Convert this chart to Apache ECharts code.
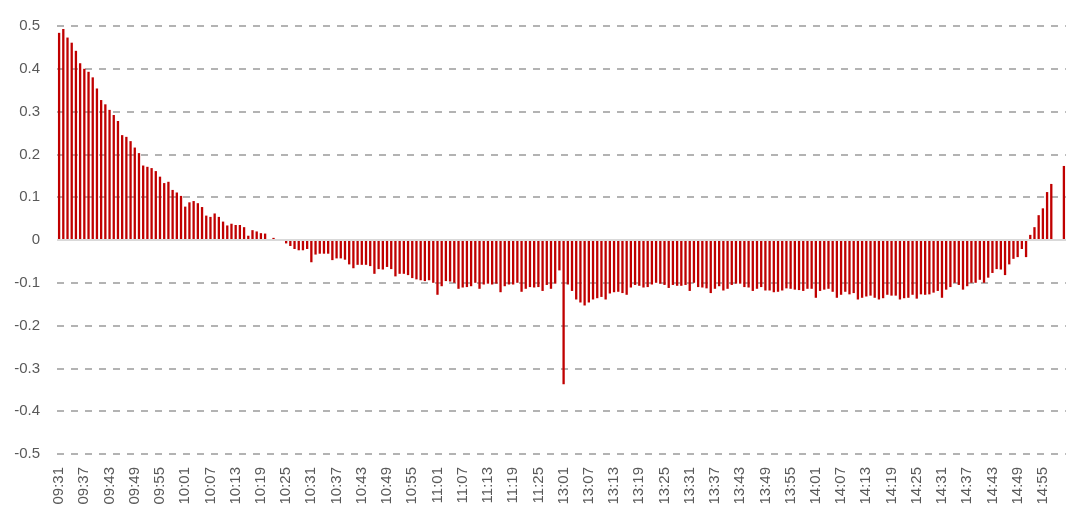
<!DOCTYPE html>
<html>
<head>
<meta charset="utf-8">
<script src="https://cdn.jsdelivr.net/npm/echarts@6/dist/echarts.min.js"></script>
<style>
html,body{margin:0;padding:0;background:#fff;}
#chart{width:1080px;height:525px;}
</style>
</head>
<body>
<div id="chart"></div>
<script>
// Trading sessions (minute bars)
const morningSession = ['09:31', '11:30'];
const afternoonSession = ['13:01', '15:00'];

function minutesBetween(start, end) {
  const out = [];
  const toMin = s => parseInt(s.slice(0, 2), 10) * 60 + parseInt(s.slice(3), 10);
  for (let m = toMin(start); m <= toMin(end); m++) {
    const h = Math.floor(m / 60), mm = m % 60;
    out.push((h < 10 ? '0' : '') + h + ':' + (mm < 10 ? '0' : '') + mm);
  }
  return out;
}
const categories = minutesBetween(morningSession[0], morningSession[1])
  .concat(minutesBetween(afternoonSession[0], afternoonSession[1]));

// Morning session values (09:31 - 11:30)
const morningValues = [
  0.484, 0.493, 0.473, 0.461, 0.442, 0.413, 0.400, 0.393, 0.380, 0.354,
  0.327, 0.317, 0.304, 0.292, 0.278, 0.245, 0.241, 0.231, 0.216, 0.203,
  0.174, 0.171, 0.168, 0.161, 0.148, 0.133, 0.136, 0.117, 0.111, 0.103,
  0.078, 0.088, 0.091, 0.086, 0.077, 0.057, 0.054, 0.062, 0.054, 0.043,
  0.034, 0.038, 0.035, 0.035, 0.030, 0.010, 0.023, 0.020, 0.016, 0.015,
  0.002, 0.005, 0.001, -0.002, -0.008, -0.014, -0.021, -0.024, -0.024, -0.021,
  -0.052, -0.034, -0.032, -0.032, -0.032, -0.047, -0.043, -0.043, -0.046, -0.057,
  -0.066, -0.058, -0.058, -0.058, -0.061, -0.079, -0.068, -0.069, -0.063, -0.068,
  -0.085, -0.079, -0.079, -0.082, -0.089, -0.092, -0.094, -0.096, -0.094, -0.100,
  -0.128, -0.108, -0.096, -0.097, -0.100, -0.114, -0.111, -0.110, -0.108, -0.100,
  -0.114, -0.104, -0.102, -0.104, -0.102, -0.122, -0.108, -0.104, -0.104, -0.100,
  -0.121, -0.114, -0.110, -0.111, -0.110, -0.119, -0.105, -0.114, -0.102, -0.071
];

// Afternoon session values (13:01 - 15:00)
const afternoonValues = [
  -0.337, -0.104, -0.119, -0.139, -0.146, -0.153, -0.146, -0.139, -0.136, -0.133,
  -0.139, -0.125, -0.122, -0.121, -0.124, -0.128, -0.111, -0.105, -0.107, -0.111,
  -0.110, -0.104, -0.100, -0.102, -0.105, -0.112, -0.105, -0.107, -0.107, -0.105,
  -0.119, -0.100, -0.110, -0.111, -0.113, -0.124, -0.114, -0.108, -0.118, -0.114,
  -0.105, -0.102, -0.102, -0.110, -0.111, -0.119, -0.114, -0.110, -0.118, -0.118,
  -0.122, -0.121, -0.118, -0.113, -0.114, -0.116, -0.117, -0.119, -0.114, -0.114,
  -0.135, -0.119, -0.116, -0.114, -0.121, -0.135, -0.128, -0.121, -0.127, -0.124,
  -0.139, -0.135, -0.132, -0.130, -0.135, -0.139, -0.136, -0.128, -0.130, -0.130,
  -0.139, -0.136, -0.135, -0.128, -0.137, -0.127, -0.128, -0.127, -0.123, -0.119,
  -0.135, -0.116, -0.110, -0.100, -0.105, -0.116, -0.108, -0.100, -0.100, -0.093,
  -0.100, -0.088, -0.077, -0.068, -0.069, -0.082, -0.057, -0.044, -0.040, -0.021,
  -0.040, 0.012, 0.030, 0.058, 0.074, 0.112, 0.131, null, null, 0.173
];

const values = morningValues.concat(afternoonValues);

// Y axis ticks
const yMin = -0.5, yMax = 0.5, yStep = 0.1;

const chart = echarts.init(document.getElementById('chart'), null, {renderer: 'canvas'});
const fontFamily = '"Liberation Sans", Arial, sans-serif';
chart.setOption({
  animation: false,
  backgroundColor: '#ffffff',
  grid: {left: 57, right: 14, top: 26, bottom: 71, containLabel: false},
  xAxis: {
    type: 'category',
    data: categories,
    position: 'bottom',
    boundaryGap: true,
    axisLine: {show: false, onZero: false},
    axisTick: {show: false},
    axisLabel: {
      interval: 5,
      rotate: 90,
      margin: 13,
      color: '#595959',
      fontSize: 15,
      fontFamily: fontFamily
    },
    splitLine: {show: false}
  },
  yAxis: {
    type: 'value',
    min: yMin,
    max: yMax,
    interval: yStep,
    axisLine: {show: false},
    axisTick: {show: false},
    axisLabel: {
      margin: 17,
      color: '#595959',
      fontSize: 15,
      fontFamily: fontFamily,
      formatter: v => String(Number(v.toFixed(1)))
    },
    splitLine: {
      show: true,
      lineStyle: {color: '#a6a6a6', width: 1.7, type: [7, 7]}
    }
  },
  series: [{
    type: 'bar',
    data: values,
    barWidth: '55%',
    itemStyle: {color: '#C00000'},
    markLine: {
      silent: true,
      symbol: 'none',
      label: {show: false},
      lineStyle: {color: '#d9d9d9', width: 2, type: 'solid'},
      data: [{yAxis: 0}]
    }
  }]
});
</script>
</body>
</html>
